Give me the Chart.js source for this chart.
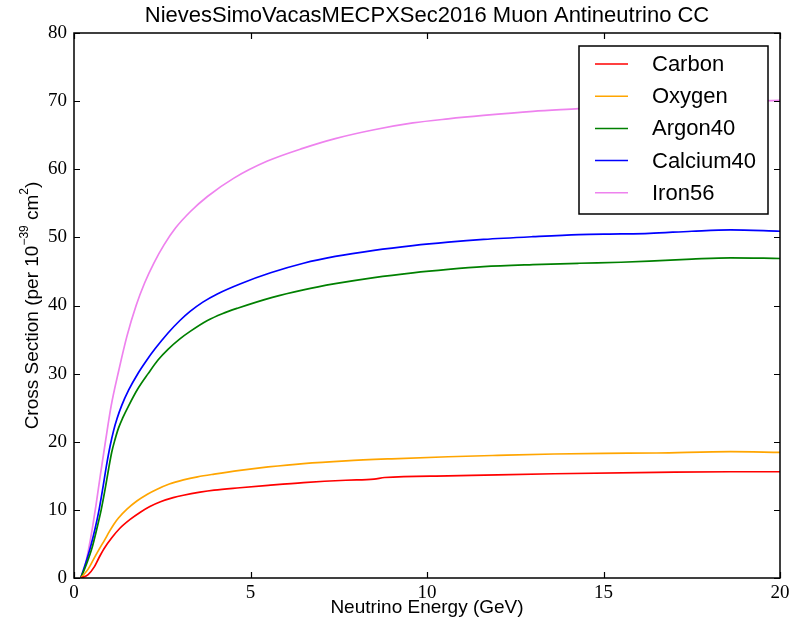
<!DOCTYPE html>
<html>
<head>
<meta charset="utf-8">
<script src="https://cdn.jsdelivr.net/npm/chart.js@4"></script>
<style>
  html, body { margin:0; padding:0; background:#fff; }
  #wrap { width:794px; height:629px; }
</style>
</head>
<body>
<div id="wrap"><canvas id="xsec" width="794" height="629"></canvas></div>
<script>
// ── Data ─────────────────────────────────────────────────────────
const titleText = 'NievesSimoVacasMECPXSec2016 Muon Antineutrino CC';
const xTicks = [0, 5, 10, 15, 20];
const yTicks = [0, 10, 20, 30, 40, 50, 60, 70, 80];

const carbonE  = [0.19,0.4,0.57,0.7,0.85,1.07,1.3,1.59,1.89,2.15,2.45,2.81,3.1,3.57,3.97,4.7,5.5,6.5,7.7,8.5,8.8,10.6,12,13.6,16.5,18.6,20];
const carbonXS = [0,0.5,1.6,2.9,4.3,5.9,7.3,8.6,9.7,10.5,11.2,11.8,12.15,12.6,12.9,13.25,13.6,14.0,14.35,14.5,14.75,15.0,15.15,15.3,15.5,15.6,15.6];

const oxygenE  = [0.19,0.4,0.55,0.71,0.87,1.0,1.13,1.26,1.5,1.78,2.08,2.34,2.7,3.1,3.5,3.97,4.7,5.5,6.5,7.7,9.0,10.6,12,13.6,15,16.5,18.6,20];
const oxygenXS = [0,1.3,2.7,4.2,5.6,6.8,7.9,8.8,10.1,11.3,12.3,13.0,13.8,14.4,14.85,15.25,15.8,16.3,16.8,17.2,17.5,17.8,18.0,18.2,18.3,18.35,18.55,18.45];

const argonE  = [0.19,0.35,0.52,0.65,0.77,0.88,0.98,1.07,1.16,1.26,1.38,1.54,1.8,2.1,2.38,2.67,3.0,3.29,3.78,4.2,4.63,5.62,6.5,7.4,8.5,9.6,10.6,11.6,13,14.3,15.5,16.3,17.5,18.6,20];
const argonXS = [0,2,4.6,7.3,10,13,16,18.5,20.3,22,23.5,25.2,27.7,30,32,33.6,35.1,36.2,37.8,38.8,39.6,41.2,42.3,43.2,44.1,44.8,45.3,45.7,46.0,46.2,46.35,46.5,46.8,47.0,46.9];

const calciumE  = [0.19,0.32,0.47,0.6,0.71,0.82,0.92,1.02,1.12,1.22,1.35,1.55,1.82,2.05,2.29,2.67,3.0,3.28,3.65,4.06,4.72,5.57,6.5,7.4,8.5,9.6,10.6,11.6,13,14.3,15.5,16.3,17.5,18.6,20];
const calciumXS = [0,2,4.6,7.3,10,13.3,16.5,19.3,21.6,23.4,25.3,27.6,30.1,31.9,33.6,36,37.8,39.1,40.5,41.7,43.2,44.8,46.2,47.2,48.1,48.8,49.3,49.7,50.1,50.4,50.5,50.6,50.9,51.1,50.9];

const ironE  = [0.19,0.3,0.42,0.52,0.62,0.75,0.89,1.05,1.27,1.5,1.76,2.0,2.27,2.55,2.88,3.3,3.78,4.53,5.48,6.5,7.4,8.5,9.6,10.6,11.6,13,14.3,15.5,17,18.5,20];
const ironXS = [0,1.5,4.4,7.3,10.6,15.2,20,25.2,30.5,35.5,40,43.3,46.3,48.9,51.4,53.8,56.0,58.7,61.2,63.1,64.5,65.8,66.8,67.4,67.9,68.5,68.9,69.3,69.6,69.9,70.1];

const seriesNames  = ['Carbon', 'Oxygen', 'Argon40', 'Calcium40', 'Iron56'];
const seriesColors = ['#ff0000', '#ffa500', '#008000', '#0000ff', '#ee82ee'];
const seriesX = [carbonE, oxygenE, argonE, calciumE, ironE];
const seriesY = [carbonXS, oxygenXS, argonXS, calciumXS, ironXS];

// ── Build datasets ───────────────────────────────────────────────
const datasets = seriesNames.map((name, i) => ({
  label: name,
  data: seriesX[i].map((e, k) => ({ x: e, y: seriesY[i][k] })),
  borderColor: seriesColors[i],
  backgroundColor: 'transparent',
  borderWidth: 1.7,
  pointRadius: 0,
  cubicInterpolationMode: 'monotone',
}));

const SANS = '"Liberation Sans", Arial, sans-serif';
const SERIF = '"Liberation Serif", "DejaVu Serif", serif';

// frame, inward ticks, title, y-axis label and legend (matplotlib look)
const decor = {
  id: 'decor',
  afterDatasetsDraw(chart) {
    const { ctx, chartArea: a, scales: { x, y } } = chart;
    ctx.save();
    ctx.strokeStyle = '#000';
    ctx.lineWidth = 1.2;
    // inward ticks on all four sides
    ctx.beginPath();
    xTicks.forEach(v => {
      const px = Math.round(x.getPixelForValue(v)) + 0.5;
      ctx.moveTo(px, a.bottom); ctx.lineTo(px, a.bottom - 6);
      ctx.moveTo(px, a.top);    ctx.lineTo(px, a.top + 6);
    });
    yTicks.forEach(v => {
      const py = Math.round(y.getPixelForValue(v)) + 0.5;
      ctx.moveTo(a.left, py);  ctx.lineTo(a.left + 6, py);
      ctx.moveTo(a.right, py); ctx.lineTo(a.right - 6, py);
    });
    ctx.stroke();
    ctx.lineWidth = 1.5;
    ctx.strokeRect(a.left, a.top, a.right - a.left, a.bottom - a.top);

    // title
    ctx.fillStyle = '#000';
    ctx.font = '22px ' + SANS;
    ctx.textAlign = 'center';
    ctx.textBaseline = 'middle';
    ctx.fillText(titleText, (a.left + a.right) / 2, 16);

    // y-axis label with superscripts
    ctx.translate(33, (a.top + a.bottom) / 2);
    ctx.rotate(-Math.PI / 2);
    const parts = [
      ['Cross Section (per 10', 19, 0], ['\u221239', 12, -8],
      [' cm', 19, 0], ['2', 12, -8], [')', 19, 0]
    ];
    let total = 0;
    parts.forEach(p => { ctx.font = p[1] + 'px ' + SANS; total += ctx.measureText(p[0]).width; });
    let cx = -total / 2;
    ctx.textAlign = 'left';
    parts.forEach(p => {
      ctx.font = p[1] + 'px ' + SANS;
      ctx.fillText(p[0], cx, p[2]);
      cx += ctx.measureText(p[0]).width;
    });
    ctx.restore();

    // legend box
    ctx.save();
    const lx = 579, ly = 46, lw = 189, lh = 168;
    ctx.fillStyle = '#fff';
    ctx.fillRect(lx, ly, lw, lh);
    ctx.strokeStyle = '#000';
    ctx.lineWidth = 1.5;
    ctx.strokeRect(lx, ly, lw, lh);
    ctx.font = '22px ' + SANS;
    ctx.textBaseline = 'middle';
    ctx.textAlign = 'left';
    chart.data.datasets.forEach((ds, i) => {
      const ry = 64 + i * 32.2;
      ctx.strokeStyle = ds.borderColor;
      ctx.lineWidth = 1.5;
      ctx.beginPath();
      ctx.moveTo(595, ry); ctx.lineTo(628, ry);
      ctx.stroke();
      ctx.fillStyle = '#000';
      ctx.fillText(ds.label, 652, ry + 1);
    });
    ctx.restore();
  }
};

new Chart(document.getElementById('xsec'), {
  type: 'line',
  data: { datasets },
  options: {
    responsive: false,
    animation: false,
    layout: { padding: { top: 33, right: 14, left: 0, bottom: 0 } },
    plugins: {
      legend: { display: false },
      title: { display: false },
      tooltip: { enabled: false }
    },
    scales: {
      x: {
        type: 'linear', min: 0, max: 20,
        afterBuildTicks: s => { s.ticks = xTicks.map(v => ({ value: v })); },
        afterFit: s => { s.height = 51; },
        grid: { display: false, drawTicks: false }, border: { display: false },
        ticks: { color: '#000', font: { family: SERIF, size: 19 }, padding: 4, maxRotation: 0 },
        title: { display: true, text: 'Neutrino Energy (GeV)', color: '#000',
                 font: { family: SANS, size: 19 }, padding: { top: 0, bottom: 10 } }
      },
      y: {
        type: 'linear', min: 0, max: 80,
        afterBuildTicks: s => { s.ticks = yTicks.map(v => ({ value: v })); },
        afterFit: s => { s.width = 74; },
        grid: { display: false, drawTicks: false }, border: { display: false },
        ticks: { color: '#000', font: { family: SERIF, size: 19 }, padding: 7 }
      }
    }
  },
  plugins: [decor]
});
</script>
</body>
</html>
